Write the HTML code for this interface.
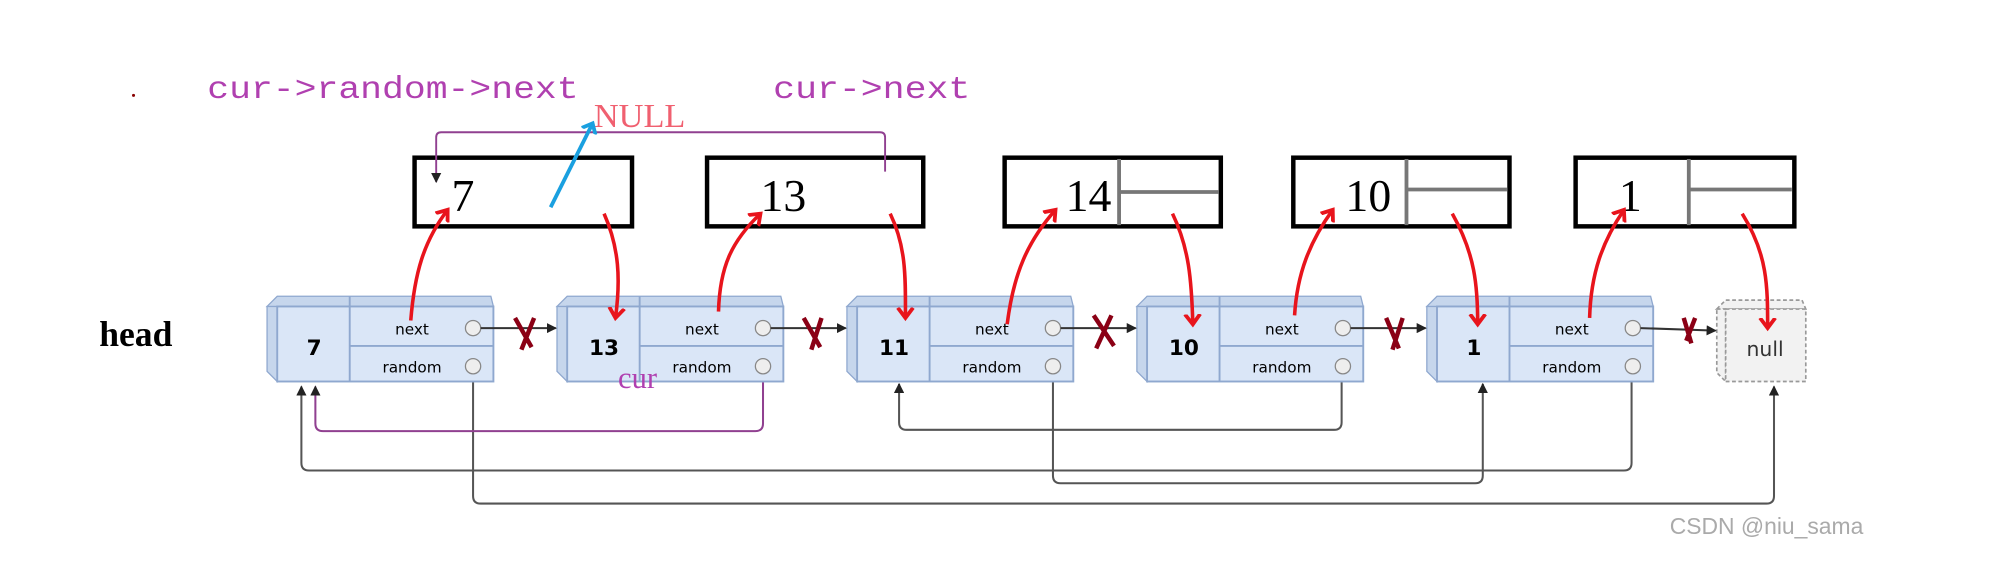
<!DOCTYPE html>
<html><head><meta charset="utf-8"><style>html,body{margin:0;padding:0;background:#fff;overflow:hidden}svg{display:block}</style></head><body>
<svg width="1994" height="565" viewBox="0 0 1568 444.3" preserveAspectRatio="none" xmlns="http://www.w3.org/2000/svg">
<defs>
<marker id="ak" markerWidth="8" markerHeight="8" refX="7" refY="4" orient="auto" markerUnits="userSpaceOnUse"><path d="M0,0 L8,4 L0,8 Z" fill="#222"/></marker>
<marker id="ar" markerWidth="16" markerHeight="16" refX="8" refY="8" orient="auto" markerUnits="userSpaceOnUse"><path d="M0,2 L8,8 L0,14" fill="none" stroke="#e8141c" stroke-width="3"/></marker>
<marker id="ab" markerWidth="14" markerHeight="14" refX="7" refY="7" orient="auto" markerUnits="userSpaceOnUse"><path d="M0,1 L7,7 L0,13" fill="none" stroke="#1aa0e0" stroke-width="3"/></marker>
</defs>
<rect width="1568" height="445" fill="#fff"/>
<circle cx="105" cy="75" r="1.2" fill="#800"/>
<g font-family="Liberation Mono, monospace" font-size="25" fill="#b040b0">
<text x="163" y="77" textLength="292" lengthAdjust="spacingAndGlyphs">cur-&gt;random-&gt;next</text>
<text x="608" y="77" textLength="155" lengthAdjust="spacingAndGlyphs">cur-&gt;next</text>
</g>
<text x="467" y="100" font-family="Liberation Serif, serif" font-size="27" fill="#f06070">NULL</text>
<text x="78" y="272" font-family="Liberation Serif, serif" font-size="28" font-weight="bold">head</text>

<g fill="none" stroke="#000" stroke-width="3.5">
<rect x="326" y="124" width="171" height="54"/>
<rect x="556" y="124" width="170" height="54"/>
<rect x="790" y="124" width="170" height="54"/>
<rect x="1017" y="124" width="170" height="54"/>
<rect x="1239" y="124" width="172" height="54"/>
</g>
<g stroke="#777" stroke-width="3">
<line x1="880" y1="125" x2="880" y2="177"/><line x1="880" y1="151" x2="958" y2="151"/>
<line x1="1106" y1="125" x2="1106" y2="177"/><line x1="1106" y1="149" x2="1185" y2="149"/>
<line x1="1328" y1="125" x2="1328" y2="177"/><line x1="1328" y1="149" x2="1409" y2="149"/>
</g>
<g font-family="Liberation Serif, serif" font-size="36" fill="#000">
<text x="355" y="166">7</text><text x="598" y="166">13</text><text x="838" y="166">14</text><text x="1058" y="166">10</text><text x="1273" y="166">1</text>
</g>
<path d="M696,135 V108 Q696,104 692,104 H347 Q343,104 343,108 V143" fill="none" stroke="#904090" stroke-width="1.5" marker-end="url(#ak)"/>
<line x1="433" y1="163" x2="466" y2="97" stroke="#1aa0e0" stroke-width="3" marker-end="url(#ab)"/>

<g fill="none" stroke="#555" stroke-width="1.6" marker-end="url(#ak)">
<path d="M372,294 V390 Q372,396 378,396 H1389 Q1395,396 1395,390 V304"/>
<path d="M600,294 V333 Q600,339 594,339 H254 Q248,339 248,333 V304" stroke="#904090"/>
<path d="M828,294 V374 Q828,380 834,380 H1160 Q1166,380 1166,374 V302"/>
<path d="M1055,294 V332 Q1055,338 1049,338 H713 Q707,338 707,332 V302"/>
<path d="M1283,294 V364 Q1283,370 1277,370 H243 Q237,370 237,364 V304"/>
</g>

<g id="nodes" font-family="DejaVu Sans, sans-serif">
<g>
<polygon points="210,241 218,233 386,233 388,241" fill="#c6d6ec" stroke="#8fa8cf"/>
<polygon points="210,241 218,241 218,300 210,292" fill="#c6d6ec" stroke="#8fa8cf"/>
<rect x="218" y="241" width="170" height="59" fill="#dae6f7" stroke="#8fa8cf" stroke-width="1.5"/>
<line x1="275" y1="233" x2="275" y2="300" stroke="#8fa8cf" stroke-width="1.5"/><line x1="275" y1="272" x2="388" y2="272" stroke="#8fa8cf" stroke-width="1.5"/>
<text x="247" y="279" font-size="17" text-anchor="middle" font-weight="bold">7</text>
<text x="324" y="263" font-size="12" text-anchor="middle">next</text><text x="324" y="293" font-size="12" text-anchor="middle">random</text>
<circle cx="372" cy="258" r="6" fill="#eee" stroke="#888"/><circle cx="372" cy="288" r="6" fill="#eee" stroke="#888"/>
</g>
</g>
<use href="#nodes" x="228"/><use href="#nodes" x="456"/><use href="#nodes" x="684"/><use href="#nodes" x="912"/>
<g font-family="DejaVu Sans, sans-serif" font-size="17" font-weight="bold" text-anchor="middle">
<rect x="460" y="262" width="28" height="24" fill="#dae6f7"/><text x="475" y="279">13</text>
<rect x="688" y="262" width="28" height="24" fill="#dae6f7"/><text x="703" y="279">11</text>
<rect x="916" y="262" width="28" height="24" fill="#dae6f7"/><text x="931" y="279">10</text>
<rect x="1144" y="262" width="28" height="24" fill="#dae6f7"/><text x="1159" y="279">1</text>
</g>
<g fill="#f2f2f2" stroke="#999" stroke-dasharray="3,2" stroke-width="1.3">
<polygon points="1350,243 1357,236 1417,236 1420,243"/>
<polygon points="1350,243 1357,243 1357,300 1350,293"/>
<rect x="1357" y="243" width="63" height="57"/>
</g>
<text x="1388" y="280" font-family="DejaVu Sans, sans-serif" font-size="16" text-anchor="middle" fill="#333">null</text>

<g stroke="#333" stroke-width="1.6" marker-end="url(#ak)">
<line x1="378" y1="258" x2="437" y2="258"/><line x1="606" y1="258" x2="665" y2="258"/><line x1="834" y1="258" x2="893" y2="258"/><line x1="1062" y1="258" x2="1121" y2="258"/><line x1="1290" y1="258" x2="1349" y2="260"/>
</g>
<g stroke="#8b0015" stroke-width="3.5" fill="none">
<path d="M405,250 L418,273 M420,250 L410,275"/>
<path d="M632,250 L645,273 M646,250 L638,275"/>
<path d="M860,248 L876,272 M874,248 L862,274"/>
<path d="M1090,250 L1100,274 M1103,250 L1095,275"/>
<path d="M1324,250 L1330,270 M1333,250 L1326,268"/>
</g>

<g fill="none" stroke="#e8141c" stroke-width="2.8" marker-end="url(#ar)">
<path d="M323,252 C326,215 333,190 352,165"/>
<path d="M475,168 C487,195 488,220 484,250"/>
<path d="M565,245 C566,210 575,190 598,168"/>
<path d="M700,168 C713,195 712,220 712,250"/>
<path d="M792,255 C797,215 808,190 830,165"/>
<path d="M922,168 C935,195 937,220 938,255"/>
<path d="M1018,248 C1020,215 1030,190 1048,165"/>
<path d="M1142,168 C1160,200 1162,225 1162,255"/>
<path d="M1250,250 C1251,215 1260,190 1277,165"/>
<path d="M1370,168 C1390,200 1390,225 1390,258"/>
</g>
<text x="486" y="305" font-family="Liberation Serif, serif" font-size="24" fill="#b040b0">cur</text>
<text x="1313" y="420" font-family="Liberation Sans, sans-serif" font-size="18" fill="#aaa">CSDN @niu_sama</text>
</svg>
</body></html>
